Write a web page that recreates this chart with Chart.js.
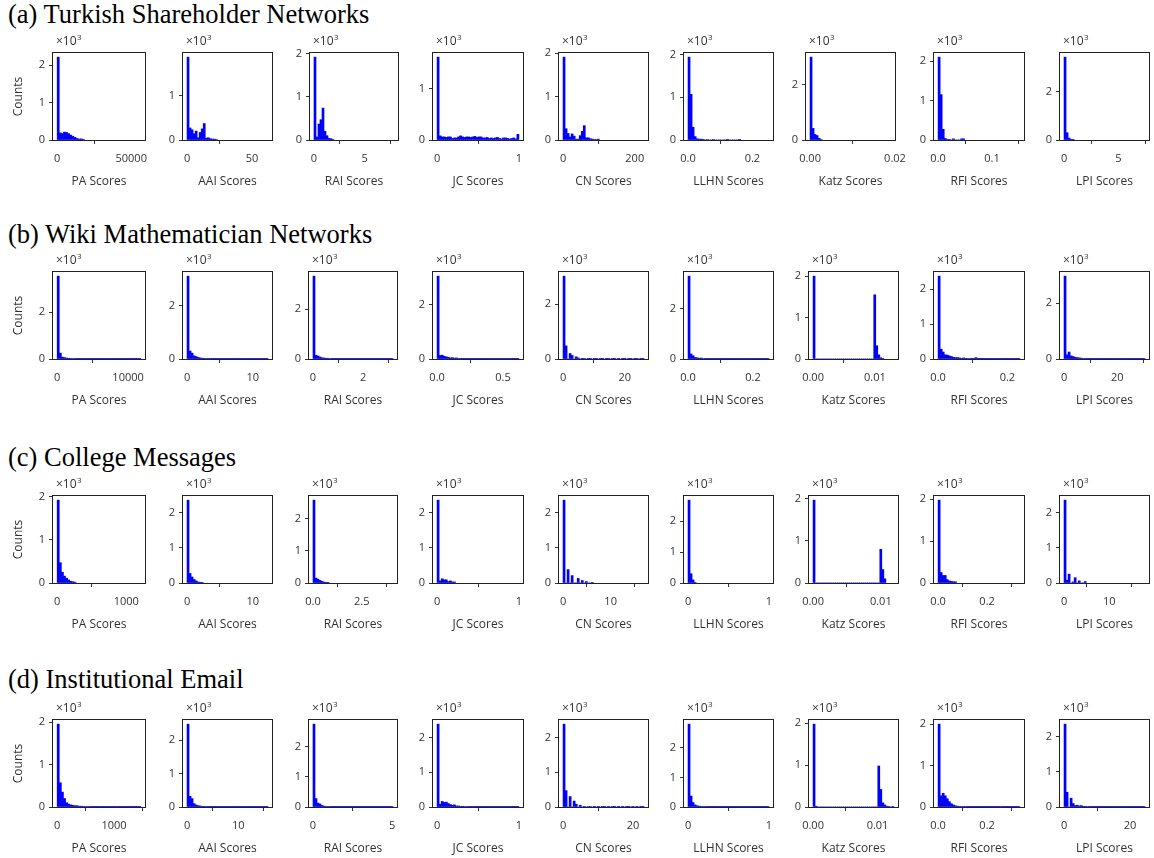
<!DOCTYPE html>
<html>
<head>
<meta charset="utf-8">
<script src="https://cdn.jsdelivr.net/npm/chart.js@4.4.1/dist/chart.umd.min.js"></script>
<style>
  body { margin: 0; width: 1154px; height: 858px; background: #fff; position: relative; overflow: hidden; }
  .row-title { position: absolute; left: 8px; font-family: "Liberation Serif", "Times New Roman", serif; font-size: 26.5px; line-height: 26px; color: #000; white-space: nowrap; }
  canvas { position: absolute; }
</style>
</head>
<body>
<script>
// Score methods (one histogram column each)
const methodNames = ["PA", "AAI", "RAI", "JC", "CN", "LLHN", "Katz", "RFI", "LPI"];
const networkTitles = ["(a) Turkish Shareholder Networks", "(b) Wiki Mathematician Networks", "(c) College Messages", "(d) Institutional Email"];
const BINS = 40;

// (a) Turkish shareholder networks: bin counts, score ranges, axis ticks
const turkishPA = [2210,190,170,210,200,170,130,100,70,40,25,30,10];
const turkishAAI = [1860,270,230,140,200,50,170,250,370,40,50,30,20,20,10];
const turkishRAI = [1920,70,370,470,740,200,100,40,30,10];
const turkishJC = [1610,80,60,60,50,60,60,30,40,40,60,80,60,50,60,60,50,60,70,50,60,60,40,40,50,30,40,30,40,50,30,20,40,40,30,20,30,40,20,110];
const turkishCN = [1905,260,150,70,140,90,20,20,100,200,330,50,50,30,20,10,10,20];
const turkishLLHN = [1940,1070,300,80,30,20,20,15,0,12,0,0,10,0,0,0,0,0,0,8,0,0,0,0,0,8];
const turkishKatz = [3000,420,200,160,60,20];
const turkishRFI = [2100,1150,270,40,15,10,0,30,0,0,0,30,30];
const turkishLPI = [3420,300,80,30,10];
const turkishRanges = [[0,56500],[0,62.3],[0,7.88],[0,1],[0,225.7],[0,0.2516],[0,0.01905],[0,0.1517],[0,7.45]];
const turkishXTicks = [["0","50000"],["0","50"],["0","5"],["0","1"],["0","200"],["0.0","0.2"],["0.00","0.02"],["0.0","0.1"],["0","5"]];
const turkishYTicks = [[0,1,2],[0,1],[0,1,2],[0,1],[0,1,2],[0,1,2],[0,2],[0,1,2],[0,2]];

// (b) Wiki mathematician networks
const wikiPA = [3540,250,80,60,40,30,25,20,18,15,14,12,11,10,10,9,8,8,7,7,6,6,6,5,5,5,5,4,4,4,4,4,3,3,3,3,3,3,3,3];
const wikiAAI = [3120,300,220,120,90,60,40,30,25,20,15,15,12,10,10,8,8,6,6,5,5,5,4,4,4,3,3,3,3,2,2,2,2,2,2,2,2,2,2,2];
const wikiRAI = [3330,150,120,80,50,40,30,30,20,15,12,10,8,8,6,6,5,5,4,4,4,3,3,3,3,2,2,2,2,2,2,2,2,2,2,2,2,2,2,2];
const wikiJC = [3060,130,140,100,80,60,40,50,30,40,20,15,12,10,8,6,6,5,5,4,4,3,3,3,2,2,2,2,2,2,2,2,2,2,2,2,2,2,2,2];
const wikiCN = [3030,480,0,200,130,0,80,40,0,25,15,0,12,10,0,8,7,0,6,5,0,5,4,0,4,3,0,3,0,3,2,0,2,2,0,2,2,0,2,2];
const wikiLLHN = [3310,200,130,60,50,30,40,20,15,12,10,8,8,6,6,5,5,4,4,3,3,3,3,2,2,2,2,2,2,2,2,2,2,2,2,2,2,2,2,2];
const wikiKatz = [2000,0,0,0,0,0,0,0,0,0,0,0,0,0,0,0,0,0,0,0,0,0,0,0,0,0,0,0,0,0,1550,320,100,30,10];
const wikiRFI = [2370,280,200,120,110,90,70,50,40,40,30,20,30,20,15,12,10,10,40,8,6,6,5,5,4,4,4,3,3,3,3,2,2,2,2,2,2,2,2,2];
const wikiLPI = [2970,150,250,110,90,60,50,40,30,20,15,12,10,8,8,6,6,5,5,4,4,4,3,3,3,3,2,2,2,2,2,2,2,2,2,2,2,2,2,2];
const wikiRanges = [[0,11800],[0,12.3],[0,3.19],[0,0.621],[0,26.2],[0,0.249],[0,0.01309],[0,0.236],[0,30.4]];
const wikiXTicks = [["0","10000"],["0","10"],["0","2"],["0.0","0.5"],["0","20"],["0.0","0.2"],["0.00","0.01"],["0.0","0.2"],["0","20"]];
const wikiYTicks = [[0,2],[0,2],[0,2],[0,2],[0,2],[0,2],[0,1,2],[0,1,2],[0,2]];

// (c) College messages
const collegePA = [1920,470,250,160,110,70,40,30,20];
const collegeAAI = [2350,270,170,100,60,30,20,10];
const collegeRAI = [2570,150,120,80,50,30,20,10];
const collegeJC = [2350,60,120,90,90,40,60,30,30];
const collegeCN = [2350,0,380,0,210,0,0,130,0,70,0,40,0,0,10];
const collegeLLHN = [2680,300,100,20];
const collegeKatz = [1970,0,0,0,0,0,0,0,0,0,0,0,0,0,0,0,0,0,0,0,0,0,0,0,0,0,0,0,0,0,0,0,0,800,320,100];
const collegeRFI = [1980,250,180,180,80,50,40,30,30];
const collegeLPI = [2350,80,250,0,30,150,0,60,0,0,40];
const collegeRanges = [[0,1210],[0,12.3],[0,4.1],[0,1],[0,17],[0,1],[0,0.01194],[0,0.334],[0,17.86]];
const collegeXTicks = [["0","1000"],["0","10"],["0.0","2.5"],["0","1"],["0","10"],["0","1"],["0.00","0.01"],["0.0","0.2"],["0","10"]];
const collegeYTicks = [[0,1,2],[0,1,2],[0,1,2],[0,1,2],[0,1,2],[0,1,2],[0,1,2],[0,1,2],[0,1,2]];

// (d) Institutional email
const emailPA = [1950,570,350,200,100,70,50,40,30,30,20,18,15,12,10,10,8,8,6,6,15,6,5,5,4,4,3,3,10,3,3,2,2,2,2,2,2,2,2,2];
const emailAAI = [2480,320,250,100,60,40,30,20,20,15,12,10,8,8,6,6,5,5,5,4,4,4,3,3,3,3,3,2,2,2,2,2,2,2,2,2,2,2,2,2];
const emailRAI = [2750,280,130,100,50,30,20,15,12,10,8,8,6,6,5,5,5,4,4,4,3,3,3,3,3,2,2,2,2,2,2,2,2,2,2,2,2,2,2,2];
const emailJC = [2380,80,160,130,140,100,70,50,60,30,30,20,20,15,15,12,10,12,10,8,8,6,6,5,5,4,4,4,3,3,3,3,2,2,2,2,2,2,2,2];
const emailCN = [2380,470,0,300,0,170,80,0,50,0,20,0,15,12,0,10,0,8,0,6,5,0,4,0,3,3,0,3,0,2,0,2,2,0,2,0,2,0,2,2];
const emailLLHN = [2800,370,150,70,40,30,20,20,15,12,10,10,8,6,6,5,5,4,4,4,10,3,3,2,2,2,2,2,2,2,2,2,2,2,2,2,2,2,2,2];
const emailKatz = [1980,20,0,0,0,0,0,0,0,0,0,0,0,0,0,0,0,0,0,0,0,0,0,0,0,0,0,0,0,0,0,0,980,420,100,50,20,10,0,10];
const emailRFI = [2000,270,330,270,200,130,80,50,30,20,15,12,10,10,8,8,6,6,5,5,5,4,4,4,3,3,3,3,3,2,10,2,2,2,2,2,2,2,2,10];
const emailLPI = [2360,420,0,250,100,40,50,30,40,20,20,15,12,10,8,8,6,6,5,5,5,4,4,4,3,3,3,3,2,2,2,2,2,2,2,2,2,2,2,5];
const emailRanges = [[0,1472],[0,15.8],[0,5.06],[0,1],[0,23.1],[0,1],[0,0.01255],[0,0.334],[0,24.5]];
const emailXTicks = [["0","1000"],["0","10"],["0","5"],["0","1"],["0","20"],["0","1"],["0.00","0.01"],["0.0","0.2"],["0","20"]];
const emailYTicks = [[0,1,2],[0,1,2],[0,1,2],[0,1,2],[0,1,2],[0,1,2],[0,1,2],[0,1,2],[0,1,2]];

const rows = [
  { counts: [turkishPA, turkishAAI, turkishRAI, turkishJC, turkishCN, turkishLLHN, turkishKatz, turkishRFI, turkishLPI], ranges: turkishRanges, xTicks: turkishXTicks, yTicks: turkishYTicks },
  { counts: [wikiPA, wikiAAI, wikiRAI, wikiJC, wikiCN, wikiLLHN, wikiKatz, wikiRFI, wikiLPI], ranges: wikiRanges, xTicks: wikiXTicks, yTicks: wikiYTicks },
  { counts: [collegePA, collegeAAI, collegeRAI, collegeJC, collegeCN, collegeLLHN, collegeKatz, collegeRFI, collegeLPI], ranges: collegeRanges, xTicks: collegeXTicks, yTicks: collegeYTicks },
  { counts: [emailPA, emailAAI, emailRAI, emailJC, emailCN, emailLLHN, emailKatz, emailRFI, emailLPI], ranges: emailRanges, xTicks: emailXTicks, yTicks: emailYTicks }
];

// Page layout: plot box positions
const ROW_TOP = [53, 272, 496, 720];
const TITLE_TOP = [1, 221, 444, 666];
const BOX_H = 87;
const COL_LEFT = [
  [53, 183, 310, 433, 559, 684, 806, 934, 1060],
  [53, 183, 309, 433, 559, 684, 809, 934, 1060],
  [53, 183, 309, 433, 559, 684, 809, 934, 1060],
  [53, 183, 309, 433, 559, 684, 809, 934, 1060]
];
const COL_W = [92, 89, 88, 90, 89, 89, 89, 90, 89];
const TOP_PAD = 25, BOTTOM_H = 56, RIGHT_PAD = 16;
const TEXT = '#333';
const FONT = '"Open Sans", "DejaVu Sans", sans-serif';

Chart.defaults.font.family = FONT;

// Draws the closed frame round the plot area and the ×10³ multiplier
const framePlugin = {
  id: 'frame',
  afterDraw(chart) {
    const { ctx, chartArea: a } = chart;
    ctx.save();
    ctx.strokeStyle = '#222';
    ctx.lineWidth = 1;
    const l = Math.round(a.left) - 0.5, t = Math.round(a.top) - 0.5;
    ctx.strokeRect(l, t, Math.round(a.right) - Math.round(a.left) + 1, Math.round(a.bottom) - Math.round(a.top) + 1);
    ctx.fillStyle = TEXT;
    ctx.textBaseline = 'alphabetic';
    ctx.font = '12px ' + FONT;
    const base = '\u00d710';
    const x0 = a.left + 3, y0 = a.top - 8;
    ctx.fillText(base, x0, y0);
    const w = ctx.measureText(base).width;
    ctx.font = '8px ' + FONT;
    ctx.fillText('3', x0 + w + 0.5, y0 - 5);
    ctx.restore();
  }
};

networkTitles.forEach((t, r) => {
  const d = document.createElement('div');
  d.className = 'row-title';
  d.style.top = TITLE_TOP[r] + 'px';
  d.textContent = t;
  document.body.appendChild(d);
});

function makePanel(r, c) {
  const row = rows[r];
  const counts = row.counts[c];
  const [lo, hi] = row.ranges[c];
  const binW = (hi - lo) / BINS;
  const margin = 0.05 * (hi - lo);
  const data = counts.map((v, i) => ({ x: lo + (i + 0.5) * binW, y: v }));
  const xLabels = row.xTicks[c];
  const yVals = row.yTicks[c];
  const yMax = 1.05 * Math.max(...counts);

  const boxL = COL_LEFT[r][c], boxT = ROW_TOP[r], boxW = COL_W[c];
  const padL = c === 0 ? boxL : 45;
  const canvas = document.createElement('canvas');
  canvas.width = padL + boxW + RIGHT_PAD;
  canvas.height = TOP_PAD + BOX_H + BOTTOM_H;
  canvas.style.left = (boxL - padL) + 'px';
  canvas.style.top = (boxT - TOP_PAD) + 'px';
  document.body.appendChild(canvas);

  new Chart(canvas, {
    type: 'bar',
    data: {
      datasets: [{
        data,
        backgroundColor: '#0000ff',
        borderWidth: 0,
        barPercentage: 1,
        categoryPercentage: 1
      }]
    },
    options: {
      responsive: false,
      animation: false,
      devicePixelRatio: 1,
      layout: { padding: { top: TOP_PAD, right: RIGHT_PAD, left: 0, bottom: 0 } },
      plugins: { legend: { display: false }, tooltip: { enabled: false } },
      scales: {
        x: {
          type: 'linear',
          min: lo - margin,
          max: hi + margin,
          offset: false,
          afterBuildTicks: s => { s.ticks = xLabels.map(t => ({ value: parseFloat(t) })); },
          afterFit: s => { s.height = BOTTOM_H; s.paddingLeft = 0; s.paddingRight = 0; },
          ticks: {
            callback: (v, i) => xLabels[i],
            autoSkip: false, maxRotation: 0, padding: 8,
            color: TEXT, font: { family: FONT, size: 11 }
          },
          grid: { drawOnChartArea: false, drawTicks: true, tickLength: 4, tickColor: '#333' },
          border: { display: false },
          title: {
            display: true, text: methodNames[c] + ' Scores', color: TEXT,
            font: { family: FONT, size: 12 }, padding: { top: 0, bottom: 7 }
          }
        },
        y: {
          type: 'linear',
          min: 0,
          max: yMax,
          afterBuildTicks: s => { s.ticks = yVals.map(v => ({ value: v * 1000 })); },
          afterFit: s => { s.width = padL; s.paddingTop = 0; s.paddingBottom = 0; },
          ticks: {
            callback: v => String(Math.round(v / 1000)),
            autoSkip: false, padding: 4,
            color: TEXT, font: { family: FONT, size: 11 }
          },
          grid: { drawOnChartArea: false, drawTicks: true, tickLength: 4, tickColor: '#333' },
          border: { display: false },
          title: {
            display: c === 0, text: 'Counts', color: TEXT,
            font: { family: FONT, size: 12 }, padding: { top: 11, bottom: 0 }
          }
        }
      }
    },
    plugins: [framePlugin]
  });
}

for (let r = 0; r < rows.length; r++) {
  for (let c = 0; c < methodNames.length; c++) makePanel(r, c);
}
</script>
</body>
</html>
